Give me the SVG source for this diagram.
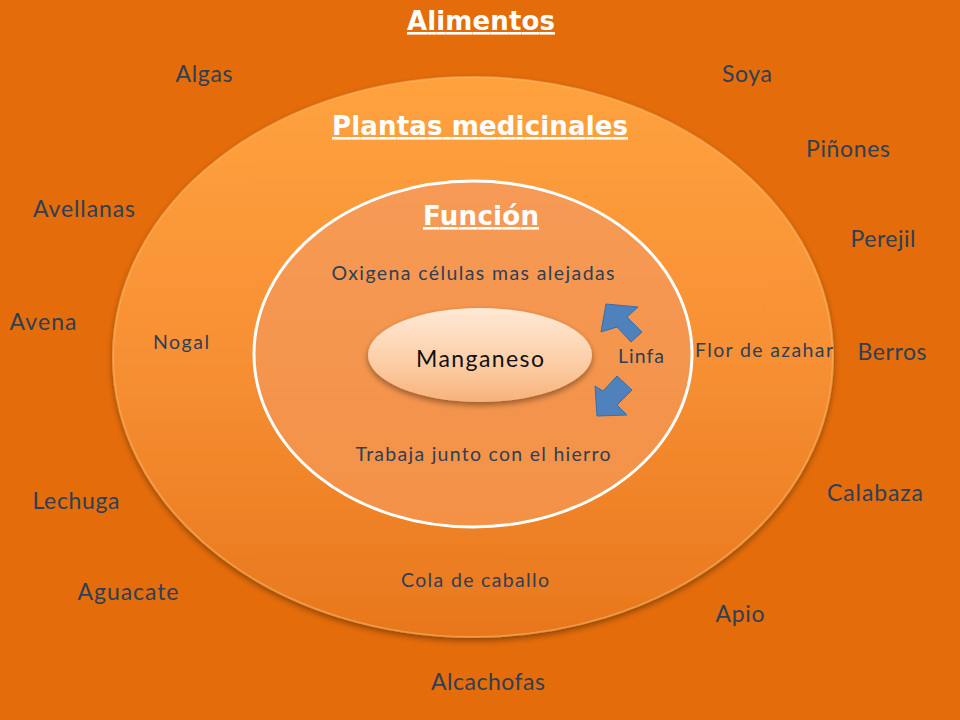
<svg xmlns="http://www.w3.org/2000/svg" width="960" height="720" viewBox="0 0 960 720">
<defs>
<linearGradient id="gOuter" x1="0" y1="0" x2="0" y2="1">
<stop offset="0" stop-color="#FFA23E"/>
<stop offset="0.5" stop-color="#F79034"/>
<stop offset="1" stop-color="#E8771C"/>
</linearGradient>
<linearGradient id="gInner" x1="0" y1="0" x2="0" y2="1">
<stop offset="0" stop-color="#F69A55"/>
<stop offset="1" stop-color="#F39147"/>
</linearGradient>
<linearGradient id="gCenter" x1="0" y1="0" x2="0" y2="1">
<stop offset="0" stop-color="#FFE9D6"/>
<stop offset="0.6" stop-color="#FCCDA5"/>
<stop offset="1" stop-color="#F8B27A"/>
</linearGradient>
<filter id="sh" x="-10%" y="-10%" width="120%" height="125%">
<feGaussianBlur in="SourceAlpha" stdDeviation="3"/>
<feOffset dx="0" dy="3" result="b"/>
<feComponentTransfer><feFuncA type="linear" slope="0.4"/></feComponentTransfer>
<feMerge><feMergeNode/><feMergeNode in="SourceGraphic"/></feMerge>
</filter>
<style>
.lbl{font-family:Lato,"Open Sans","Liberation Sans",sans-serif;fill:#2F3F55;text-anchor:middle}
.out{font-size:23px}
.in{font-size:19.5px}
.ttl{font-family:"DejaVu Sans","Liberation Sans",sans-serif;font-weight:bold;fill:#FFFFFF;text-anchor:middle;text-decoration:underline;font-size:26px}
.arr{fill:#4F81BD;stroke:#3A6EA8;stroke-width:1}
</style>
</defs>
<rect x="0" y="0" width="960" height="720" fill="#E46C0A"/>

<g id="outer">
<ellipse cx="473" cy="357" rx="360" ry="280" fill="url(#gOuter)" filter="url(#sh)" stroke="#FFC070" stroke-opacity="0.5" stroke-width="2"/>
</g>
<g id="inner">
<ellipse cx="473" cy="354" rx="219" ry="173" fill="url(#gInner)" stroke="#FFFFFF" stroke-width="3"/>
</g>
<g id="center">
<ellipse cx="480" cy="355" rx="112" ry="47" fill="url(#gCenter)" filter="url(#sh)"/>
<text class="lbl" x="480" y="367" textLength="128" lengthAdjust="spacing" style="font-size:23px;fill:#111">Manganeso</text>
</g>

<g id="connectors">
<polygon class="arr" points="606,304 638,307 627,317 642,332 631,342 617,327 601,332"/>
<polygon class="arr" points="597,416 627,415 617,405 632,390 617,376 603,391 595,386"/>
</g>

<g id="titles">
<text class="ttl" x="481" y="30" textLength="148" lengthAdjust="spacing">Alimentos</text>
<text class="ttl" x="480" y="135" textLength="296" lengthAdjust="spacing">Plantas medicinales</text>
<text class="ttl" x="481" y="225" textLength="116" lengthAdjust="spacing">Función</text>
</g>

<g id="foods">
<text class="lbl out" x="204" y="82" textLength="57" lengthAdjust="spacing">Algas</text>
<text class="lbl out" x="747" y="82" textLength="50" lengthAdjust="spacing">Soya</text>
<text class="lbl out" x="848" y="157" textLength="84" lengthAdjust="spacing">Piñones</text>
<text class="lbl out" x="84" y="217" textLength="102" lengthAdjust="spacing">Avellanas</text>
<text class="lbl out" x="883" y="247" textLength="65" lengthAdjust="spacing">Perejil</text>
<text class="lbl out" x="43" y="330" textLength="67" lengthAdjust="spacing">Avena</text>
<text class="lbl out" x="892" y="360" textLength="69" lengthAdjust="spacing">Berros</text>
<text class="lbl out" x="76" y="509" textLength="87" lengthAdjust="spacing">Lechuga</text>
<text class="lbl out" x="875" y="501" textLength="96" lengthAdjust="spacing">Calabaza</text>
<text class="lbl out" x="128" y="600" textLength="101" lengthAdjust="spacing">Aguacate</text>
<text class="lbl out" x="740" y="622" textLength="49" lengthAdjust="spacing">Apio</text>
<text class="lbl out" x="488" y="690" textLength="114" lengthAdjust="spacing">Alcachofas</text>
</g>

<g id="plants">
<text class="lbl in" x="181" y="349" textLength="56" lengthAdjust="spacing">Nogal</text>
<text class="lbl in" x="764" y="357" textLength="138" lengthAdjust="spacing">Flor de azahar</text>
<text class="lbl in" x="475" y="587" textLength="148" lengthAdjust="spacing">Cola de caballo</text>
</g>

<g id="functions">
<text class="lbl in" x="473" y="280" textLength="283" lengthAdjust="spacing">Oxigena células mas alejadas</text>
<text class="lbl in" x="483" y="461" textLength="255" lengthAdjust="spacing">Trabaja junto con el hierro</text>
<text class="lbl in" x="641" y="363" textLength="46" lengthAdjust="spacing">Linfa</text>
</g>
</svg>
